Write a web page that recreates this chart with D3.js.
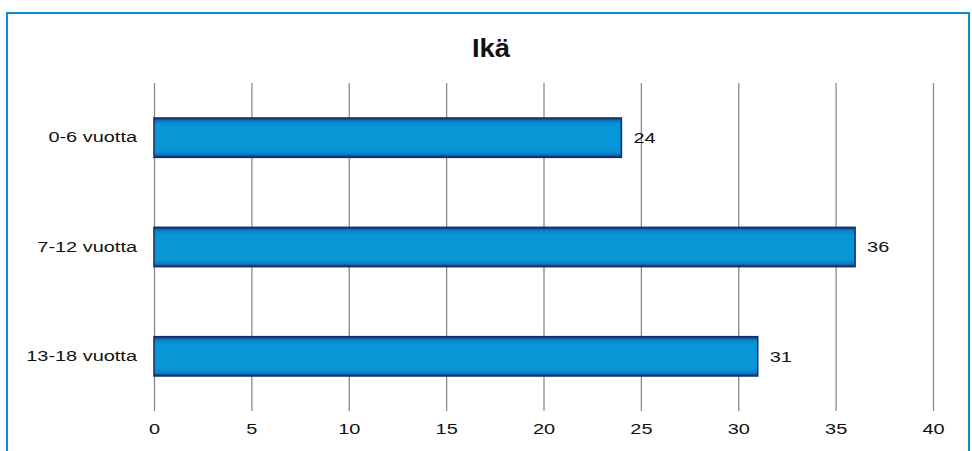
<!DOCTYPE html>
<html>
<head>
<meta charset="utf-8">
<script src="https://cdn.jsdelivr.net/npm/d3@7"></script>
<style>
html,body{margin:0;padding:0;background:#fff;}
svg{display:block;}
text{font-family:"Liberation Sans",Arial,sans-serif;fill:#111;}
</style>
</head>
<body>
<svg id="chart" width="972" height="451"></svg>
<script>
const title = "Ikä";
const categories = ["0-6 vuotta", "7-12 vuotta", "13-18 vuotta"];
const values = [24, 36, 31];
const tickValues = [0, 5, 10, 15, 20, 25, 30, 35, 40];

const W = 972, H = 451;
const svg = d3.select("#chart");
const sx = 1.33; // horizontal text stretch

// frame
svg.append("rect").attr("x", 7).attr("y", 13).attr("width", 962).attr("height", 460)
  .attr("fill", "none").attr("stroke", "#0a8ed0").attr("stroke-width", 2);

const defs = svg.append("defs");
const g1 = defs.append("linearGradient").attr("id", "barV").attr("x1", 0).attr("y1", 0).attr("x2", 0).attr("y2", 1);
[[0, "#1b2f75"], [0.08, "#0a7fc4"], [0.18, "#0796d6"], [0.82, "#0796d6"], [0.92, "#0a7fc4"], [1, "#1b2f75"]]
  .forEach(([o, c]) => g1.append("stop").attr("offset", o).attr("stop-color", c));

const plot = {left: 154, right: 933, top: 83, bottom: 411};
const x = d3.scaleLinear().domain([0, 40]).range([plot.left, plot.right]);
const y = d3.scaleBand().domain(categories).range([plot.top, plot.bottom]).paddingInner(0.64).paddingOuter(0.32);

// grid lines
const xAxis = d3.axisBottom(x).tickValues(tickValues).tickSize(-(plot.bottom - plot.top)).tickSizeOuter(0).tickPadding(12);
const gx = svg.append("g").attr("transform", `translate(0,${plot.bottom})`).call(xAxis);
gx.select(".domain").remove();
gx.selectAll(".tick line").attr("stroke", "#8a8a8a").attr("stroke-width", 1.3);
gx.selectAll(".tick text").attr("font-size", 15).attr("fill", "#111")
  .attr("font-family", "Liberation Sans, Arial, sans-serif")
  .attr("dy", "0.71em")
  .each(function () {
    const t = d3.select(this);
    t.attr("transform", `translate(0,0) scale(${sx},1)`);
  });

// category labels
const yAxis = d3.axisLeft(y).tickSize(0).tickPadding(17);
const gy = svg.append("g").attr("transform", `translate(${plot.left},0)`).call(yAxis);
gy.select(".domain").remove();
gy.selectAll(".tick text").attr("font-size", 15).attr("fill", "#111")
  .attr("font-family", "Liberation Sans, Arial, sans-serif")
  .attr("x", 0).attr("transform", `translate(-17,0) scale(${sx},1)`);

// bars
const data = categories.map((c, i) => ({c, v: values[i]}));
svg.append("g").selectAll("rect").data(data).join("rect")
  .attr("x", x(0)).attr("y", d => y(d.c))
  .attr("width", d => x(d.v) - x(0)).attr("height", y.bandwidth())
  .attr("fill", "url(#barV)").attr("stroke", "#1b2a66").attr("stroke-width", 1.5);

// value labels
svg.append("g").selectAll("text").data(data).join("text")
  .attr("transform", d => `translate(${x(d.v) + 12},${y(d.c) + y.bandwidth() / 2}) scale(${sx},1)`)
  .attr("dy", "0.35em").attr("font-size", 15).text(d => d.v);

// title
svg.append("text").attr("transform", `translate(491,57) scale(1.1,1)`)
  .attr("text-anchor", "middle").attr("font-size", 25).attr("font-weight", "bold").text(title);
</script>
</body>
</html>
